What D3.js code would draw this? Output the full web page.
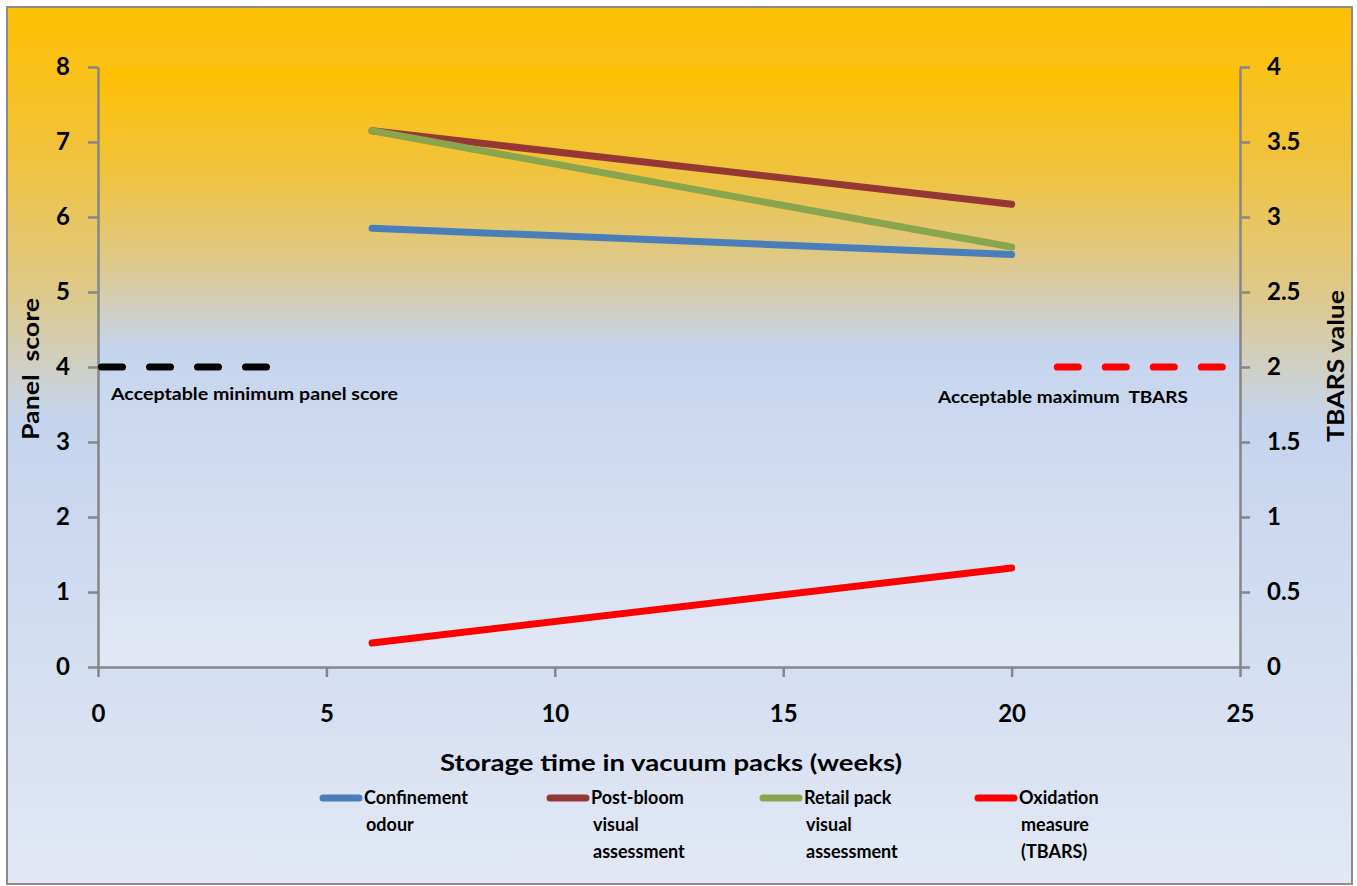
<!DOCTYPE html>
<html>
<head>
<meta charset="utf-8">
<script src="https://cdn.jsdelivr.net/npm/d3@7"></script>
<style>
  html, body { margin: 0; padding: 0; background: #ffffff; }
  svg { display: block; }
  text { font-family: Lato, "Open Sans", sans-serif; font-weight: bold; fill: #000; }
</style>
</head>
<body>
<svg id="chart" width="1357" height="886"></svg>
<script>
// ---------------- DATA ----------------
const weeks = [6, 20];
const confinementOdour = [5.85, 5.5];
const postBloomVisual = [7.15, 6.17];
const retailPackVisual = [7.15, 5.6];
const tbarsValue = [0.16, 0.66];

const minPanelWeeks = [0, 3.7];
const minPanelScore = 4;
const maxTbarsWeeks = [21, 24.7];
const maxTbars = 2;

const xTicks = [0, 5, 10, 15, 20, 25];
const yLeftTicks = [0, 1, 2, 3, 4, 5, 6, 7, 8];
const yRightTicks = [0, 0.5, 1, 1.5, 2, 2.5, 3, 3.5, 4];

const seriesNames = ["Confinement odour", "Post-bloom visual assessment", "Retail pack visual assessment", "Oxidation measure (TBARS)"];
const legendLines = [["Confinement", "odour"], ["Post-bloom", "visual", "assessment"], ["Retail pack", "visual", "assessment"], ["Oxidation", "measure", "(TBARS)"]];
const seriesColors = ["#4A7EBB", "#953735", "#89A54E", "#FF0000"];

// ---------------- LAYOUT ----------------
const svg = d3.select("#chart");
const W = 1357, H = 886;
const plot = { left: 98, right: 1240, top: 67, bottom: 667 };

const x = d3.scaleLinear().domain([0, 25]).range([plot.left, plot.right]);
const yL = d3.scaleLinear().domain([0, 8]).range([plot.bottom, plot.top]);
const yR = d3.scaleLinear().domain([0, 4]).range([plot.bottom, plot.top]);

// gradients
const defs = svg.append("defs");
function addGrad(id) {
  const g = defs.append("linearGradient").attr("id", id)
    .attr("x1", 0).attr("y1", 0).attr("x2", 0).attr("y2", 1);
  [[0, "#FFC000"], [0.18, "#F0C340"], [0.33, "#DDC98C"], [0.47, "#C5D4EE"], [1, "#E2E8F5"]]
    .forEach(([o, c]) => g.append("stop").attr("offset", o).attr("stop-color", c));
}
addGrad("outerGrad");
addGrad("plotGrad");

svg.append("rect").attr("x", 7).attr("y", 7).attr("width", 1345).attr("height", 877)
  .attr("fill", "url(#outerGrad)").attr("stroke", "#8C8C8C").attr("stroke-width", 2);

svg.append("rect").attr("x", plot.left).attr("y", plot.top)
  .attr("width", plot.right - plot.left).attr("height", plot.bottom - plot.top)
  .attr("fill", "url(#plotGrad)");

// ---------------- AXES ----------------
const axisColor = "#868686";
function styleAxis(g) {
  g.selectAll("path.domain").attr("stroke", axisColor).attr("stroke-width", 2.5);
  g.selectAll(".tick line").attr("stroke", axisColor).attr("stroke-width", 2.5);
  g.selectAll(".tick text").style("font-size", "24px").style("font-family", "Lato, sans-serif")
    .style("font-weight", "bold").attr("fill", "#000");
}

const gx = svg.append("g").attr("transform", `translate(0,${plot.bottom})`)
  .call(d3.axisBottom(x).tickValues(xTicks).tickSize(10).tickSizeOuter(0).tickPadding(28).tickFormat(d3.format("d")));
styleAxis(gx);

const gyl = svg.append("g").attr("transform", `translate(${plot.left},0)`)
  .call(d3.axisLeft(yL).tickValues(yLeftTicks).tickSize(10).tickSizeOuter(0).tickPadding(18).tickFormat(d3.format("d")));
styleAxis(gyl);

const gyr = svg.append("g").attr("transform", `translate(${plot.right},0)`)
  .call(d3.axisRight(yR).tickValues(yRightTicks).tickSize(10).tickSizeOuter(0).tickPadding(17).tickFormat(d => String(d)));
styleAxis(gyr);

// axis titles
svg.append("text").attr("x", 671).attr("y", 771).attr("text-anchor", "middle")
  .style("font-size", "23px").attr("textLength", 462).attr("lengthAdjust", "spacingAndGlyphs")
  .text("Storage time in vacuum packs (weeks)");

svg.append("text").attr("transform", "translate(39,369) rotate(-90)").attr("text-anchor", "middle")
  .style("font-size", "23px").attr("textLength", 142).attr("lengthAdjust", "spacingAndGlyphs")
  .attr("xml:space", "preserve").text("Panel  score");

svg.append("text").attr("transform", "translate(1344,366) rotate(-90)").attr("text-anchor", "middle")
  .style("font-size", "23px").attr("textLength", 152).attr("lengthAdjust", "spacingAndGlyphs")
  .text("TBARS value");

// ---------------- THRESHOLD LINES ----------------
svg.append("line")
  .attr("x1", x(minPanelWeeks[0]) + 3.5).attr("x2", x(minPanelWeeks[1]))
  .attr("y1", yL(minPanelScore)).attr("y2", yL(minPanelScore))
  .attr("stroke", "#000").attr("stroke-width", 7).attr("stroke-linecap", "round")
  .attr("stroke-dasharray", "21,27");

svg.append("line")
  .attr("x1", x(maxTbarsWeeks[0])).attr("x2", x(maxTbarsWeeks[1]))
  .attr("y1", yR(maxTbars)).attr("y2", yR(maxTbars))
  .attr("stroke", "#FF0000").attr("stroke-width", 7).attr("stroke-linecap", "round")
  .attr("stroke-dasharray", "21,27");

svg.append("text").attr("x", 111).attr("y", 400)
  .style("font-size", "17px").attr("textLength", 287).attr("lengthAdjust", "spacingAndGlyphs")
  .text("Acceptable minimum panel score");

svg.append("text").attr("x", 938).attr("y", 403)
  .style("font-size", "17px").attr("textLength", 250).attr("lengthAdjust", "spacingAndGlyphs")
  .attr("xml:space", "preserve").text("Acceptable maximum  TBARS");

// ---------------- SERIES ----------------
const lineL = d3.line().x(d => x(d[0])).y(d => yL(d[1]));
const lineR = d3.line().x(d => x(d[0])).y(d => yR(d[1]));
const seriesData = [
  { vals: confinementOdour, gen: lineL },
  { vals: postBloomVisual, gen: lineL },
  { vals: retailPackVisual, gen: lineL },
  { vals: tbarsValue, gen: lineR }
];
seriesData.forEach((s, i) => {
  svg.append("path")
    .attr("d", s.gen(weeks.map((w, j) => [w, s.vals[j]])))
    .attr("fill", "none").attr("stroke", seriesColors[i])
    .attr("stroke-width", 7).attr("stroke-linecap", "round");
});

// ---------------- LEGEND ----------------
const legendX = [320, 547, 760, 975];
const rowY = [798, 825, 852];
legendLines.forEach((lines, i) => {
  const g = svg.append("g");
  g.append("line").attr("x1", legendX[i] + 3).attr("x2", legendX[i] + 39)
    .attr("y1", rowY[0]).attr("y2", rowY[0])
    .attr("stroke", seriesColors[i]).attr("stroke-width", 7).attr("stroke-linecap", "round");
  lines.forEach((t, k) => {
    g.append("text").attr("x", legendX[i] + 44 + (k > 0 ? 2 : 0)).attr("y", rowY[k])
      .attr("dy", "0.36em").style("font-size", "18px").text(t);
  });
});
</script>
</body>
</html>
